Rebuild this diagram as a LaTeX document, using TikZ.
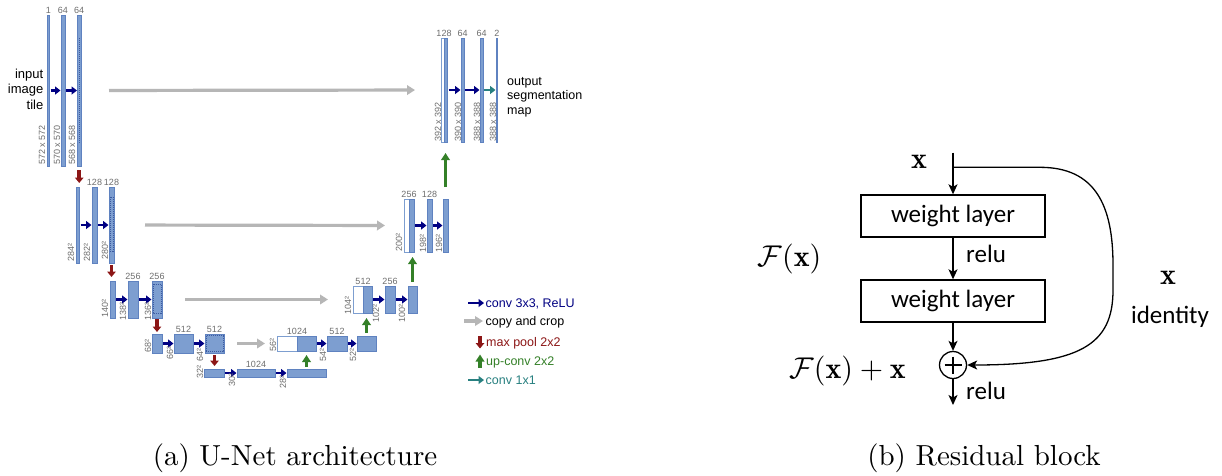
\documentclass[tikz,border=0pt]{standalone}
\usepackage{fontspec}
\usepackage{graphicx}
\usetikzlibrary{arrows.meta}
\newfontfamily\arialf{Liberation Sans}
\newfontfamily\calf{Carlito}
\definecolor{barfill}{RGB}{125,158,208}
\definecolor{bardraw}{RGB}{95,130,192}
\definecolor{cropc}{RGB}{60,90,160}
\definecolor{convblue}{RGB}{0,0,130}
\definecolor{poolred}{RGB}{140,22,22}
\definecolor{upgreen}{RGB}{52,128,40}
\definecolor{tealc}{RGB}{40,128,128}
\definecolor{copygray}{RGB}{182,182,182}
\definecolor{labgray}{RGB}{110,110,110}
\tikzset{
  bar/.style={rectangle, fill=barfill, draw=bardraw, line width=0.5pt, inner sep=0pt, outer sep=0pt},
  wbar/.style={bar, fill=white, draw=barfill},
  cropbox/.style={draw=cropc, dash pattern=on 1pt off 1pt, line width=0.5pt},
  conv/.style={draw=convblue, line width=2.8pt, -{Triangle[length=5.5pt,width=8pt]}, shorten <=1pt, shorten >=0.5pt},
  convone/.style={conv, draw=tealc},
  copyarr/.style={draw=copygray, line width=3.2pt, -{Triangle[length=8pt,width=9.5pt]}},
  pool/.style={draw=poolred, line width=3.6pt, -{Triangle[length=5.5pt,width=8.5pt]}},
  upconv/.style={draw=upgreen, line width=3.2pt, -{Triangle[length=7pt,width=8.5pt]}},
  lab/.style={font=\arialf\fontsize{9}{10}\selectfont, text=labgray, inner sep=0pt},
  toplab/.style={lab, anchor=south},
  rotlab/.style={lab, rotate=90, anchor=west},
  legtext/.style={font=\arialf\fontsize{12.5}{14}\selectfont, inner sep=0pt, anchor=base west},
  wbox/.style={draw, line width=1.4pt, minimum width=184pt, minimum height=42pt, inner sep=0pt, font=\calf\fontsize{25}{28}\selectfont},
  resarr/.style={line width=1.3pt, -{Stealth[length=10pt,width=9pt,inset=2.5pt]}},
  restext/.style={font=\calf\fontsize{25}{28}\selectfont, inner sep=0pt}
}
\newcommand\unetbar[6][]{%
  \pgfmathsetmacro\ubcx{(#3+#4)/2}\pgfmathsetmacro\ubcy{(#5+#6)/2}%
  \pgfmathsetmacro\ubw{#4-#3}\pgfmathsetmacro\ubh{#6-#5}%
  \node[bar,#1,minimum width=\ubw pt,minimum height=\ubh pt] (#2) at (\ubcx,\ubcy) {};}
\begin{document}
\begin{tikzpicture}[x=1pt,y=-1pt]
\fill[white] (0,0) rectangle (1222,475);
\useasboundingbox (0,0) rectangle (1222,475);

% ---------- U-Net: contracting path ----------
\unetbar{L1a}{47.5}{49.5}{15}{166}
\unetbar{L1b}{61}{65}{15}{166}
\unetbar{L1c}{77.5}{81}{15}{166}
\draw[cropbox] (79.25,38) -- (79.25,143);
\unetbar{L2a}{76.5}{79.5}{187}{263}
\unetbar{L2b}{92}{97}{187}{263}
\unetbar{L2c}{109}{114}{187}{263}
\draw[cropbox] (110,197) rectangle (113,251);
\unetbar{L3a}{110}{115}{281}{318}
\unetbar{L3b}{128}{138}{281}{318}
\unetbar{L3c}{152}{162}{281}{318}
\draw[cropbox] (153,284) rectangle (161,313);
\unetbar{L4a}{152}{162}{334}{353}
\unetbar{L4b}{174}{193}{334}{353}
\unetbar{L4c}{205}{224}{334}{353}
\draw[cropbox] (206,335.5) rectangle (223,351.5);
\unetbar{L5a}{204}{224}{369}{377}
\unetbar{L5b}{237}{275}{369}{377}
\unetbar{L5c}{287}{326}{369}{377}

% ---------- U-Net: expansive path ----------
\unetbar[wbar]{R4w}{277}{297}{336}{351}
\unetbar{R4b}{297}{316}{336}{351}
\unetbar{R4c}{327}{347}{336}{351}
\unetbar{R4d}{357}{376}{336}{351}
\unetbar[wbar]{R3w}{353}{363}{286}{313}
\unetbar{R3b}{363}{372}{286}{313}
\unetbar{R3c}{385}{395}{286}{313}
\unetbar{R3d}{408}{417}{286}{313}
\unetbar[wbar]{R2w}{404}{409}{199}{252}
\unetbar{R2b}{409}{414}{199}{252}
\unetbar{R2c}{427}{432}{199}{252}
\unetbar{R2d}{443}{448}{199}{252}
\unetbar[wbar]{R1w}{441.5}{444}{38}{142}
\unetbar{R1b}{444}{447.5}{38}{142}
\unetbar{R1c}{461}{464}{38}{142}
\unetbar{R1d}{480}{483}{38}{142}
\unetbar{R1e}{496}{497.5}{38}{142}

% ---------- conv arrows ----------
\draw[conv] (L1a) -- (L1b);  \draw[conv] (L1b) -- (L1c);
\draw[conv] (L2a) -- (L2b);  \draw[conv] (L2b) -- (L2c);
\draw[conv] (L3a) -- (L3b);  \draw[conv] (L3b) -- (L3c);
\draw[conv] (L4a) -- (L4b);  \draw[conv] (L4b) -- (L4c);
\draw[conv] (L5a) -- (L5b);  \draw[conv] (L5b) -- (L5c);
\draw[conv] (R4b) -- (R4c);  \draw[conv] (R4c) -- (R4d);
\draw[conv] (R3b) -- (R3c);  \draw[conv] (R3c) -- (R3d);
\draw[conv] (R2b) -- (R2c);  \draw[conv] (R2c) -- (R2d);
\draw[conv] (R1b) -- (R1c);  \draw[conv] (R1c) -- (R1d);
\draw[convone] (R1d) -- (R1e);

% ---------- copy and crop ----------
\draw[copyarr, shorten <=28pt, shorten >=26.5pt] (L1c) -- (R1w);
\draw[copyarr, shorten <=31pt, shorten >=19pt] (L2c) -- (R2w);
\draw[copyarr, shorten <=23pt, shorten >=25pt] (L3c) -- (R3w);
\draw[copyarr, shorten <=13pt, shorten >=12pt] (L4c) -- (R4w);

% ---------- max pool ----------
\draw[pool, shorten <=4pt, shorten >=4pt] (L1c.south) -- (L1c.south |- L2a.north);
\draw[pool, shorten <=2pt, shorten >=4pt] (L2c.south) -- (L2c.south |- L3a.north);
\draw[pool, shorten <=1pt, shorten >=2pt] (L3c.south) -- (L3c.south |- L4a.north);
\draw[pool, shorten <=2pt, shorten >=3pt] (L4c.south) -- (L4c.south |- L5a.north);

% ---------- up-conv ----------
\draw[upconv, shorten <=2pt, shorten >=4pt] (L5c.north -| R4b.south) -- (R4b.south);
\draw[upconv, shorten <=3pt, shorten >=5pt] (R4d.north) -- (R4d.north |- R3b.south);
\draw[upconv, shorten <=4pt, shorten >=5pt] (R3d.north) -- (R3d.north |- R2b.south);
\draw[upconv, shorten <=12pt, shorten >=11pt] (R2d.north) -- (R2d.north |- R1b.south);

% ---------- channel labels ----------
\node[toplab] (t1a) at ([yshift=1.5pt]L1a.north) {1};
\node[toplab] (t1b) at ([yshift=1.5pt]L1b.north) {64};
\node[toplab] (t1c) at ([yshift=1.5pt]L1c.north) {64};
\node[toplab] (t2b) at ([yshift=1.5pt]L2b.north) {128};
\node[toplab] (t2c) at ([yshift=1.5pt]L2c.north) {128};
\node[toplab] (t3b) at ([yshift=1.5pt]L3b.north) {256};
\node[toplab] (t3c) at ([yshift=1.5pt]L3c.north) {256};
\node[toplab] (t4b) at ([yshift=1.5pt]L4b.north) {512};
\node[toplab] (t4c) at ([yshift=1.5pt]L4c.north) {512};
\node[toplab] (t5b) at ([yshift=1.5pt]L5b.north) {1024};
\node[toplab] (u4b) at ([yshift=1.5pt]R4w.north east) {1024};
\node[toplab] (u4c) at ([yshift=1.5pt]R4c.north) {512};
\node[toplab] (u3b) at ([yshift=1.5pt]R3w.north east) {512};
\node[toplab] (u3c) at ([yshift=1.5pt]R3c.north) {256};
\node[toplab] (u2b) at ([yshift=1.5pt]R2w.north east) {256};
\node[toplab] (u2c) at ([yshift=1.5pt]R2c.north) {128};
\node[toplab] (u1b) at ([yshift=1.5pt]R1w.north east) {128};
\node[toplab] (u1c) at ([yshift=1.5pt]R1c.north) {64};
\node[toplab] (u1d) at ([yshift=1.5pt]R1d.north) {64};
\node[toplab] (u1e) at ([yshift=1.5pt]R1e.north) {2};

% ---------- size labels ----------
\node[rotlab] (s1a) at (42,165) {572 x 572};
\node[rotlab] (s1b) at (57,165) {570 x 570};
\node[rotlab] (s1c) at (72,165) {568 x 568};
\node[rotlab] (s2a) at (71,262) {284²};
\node[rotlab] (s2b) at (87,262) {282²};
\node[rotlab] (s2c) at (105,260) {280²};
\node[rotlab] (s3a) at (105,318) {140²};
\node[rotlab] (s3b) at (123,321) {138²};
\node[rotlab] (s3c) at (148,321) {136²};
\node[rotlab] (s4a) at (148,353) {68²};
\node[rotlab] (s4b) at (170,360) {66²};
\node[rotlab] (s4c) at (200,362) {64²};
\node[rotlab] (s5a) at (200,379) {32²};
\node[rotlab] (s5b) at (232,387) {30²};
\node[rotlab] (s5c) at (283,389) {28²};
\node[rotlab] (r4a) at (273,352) {56²};
\node[rotlab] (r4b) at (323,362) {54²};
\node[rotlab] (r4c) at (353,362) {52²};
\node[rotlab] (r3a) at (348,315) {104²};
\node[rotlab] (r3b) at (376,323) {102²};
\node[rotlab] (r3c) at (402,323) {100²};
\node[rotlab] (r2a) at (399,252) {200²};
\node[rotlab] (r2b) at (423,253) {198²};
\node[rotlab] (r2c) at (439,253) {196²};
\node[rotlab] (r1a) at (438,142) {392 x 392};
\node[rotlab] (r1b) at (458,142) {390 x 390};
\node[rotlab] (r1c) at (477,142) {388 x 388};
\node[rotlab] (r1d) at (493,142) {388 x 388};

% ---------- input / output texts ----------
\node[font=\arialf\fontsize{13}{15.5}\selectfont, align=right, anchor=east, inner sep=0pt] (inp) at (43.5,89) {input\\image\\tile};
\node[font=\arialf\fontsize{12.5}{14.5}\selectfont, align=left, anchor=west, inner sep=0pt] (outp) at (507,97) {output\\segmentation\\map};

% ---------- legend ----------
\coordinate (lg1s) at (468,303); \coordinate (lg1e) at (484,303);
\draw[conv, shorten <=0pt, shorten >=0pt] (lg1s) -- (lg1e);
\node[legtext, text=convblue] (lg1) at (485.5,307) {conv 3x3, ReLU};
\coordinate (lg2s) at (464,321); \coordinate (lg2e) at (483,321);
\draw[copyarr] (lg2s) -- (lg2e);
\node[legtext, text=black] (lg2) at (485.5,325) {copy and crop};
\coordinate (lg3s) at (480,336); \coordinate (lg3e) at (480,348.5);
\draw[pool] (lg3s) -- (lg3e);
\node[legtext, text=poolred] (lg3) at (486,346) {max pool 2x2};
\coordinate (lg4s) at (480,367.5); \coordinate (lg4e) at (480,354.5);
\draw[upconv] (lg4s) -- (lg4e);
\node[legtext, text=upgreen] (lg4) at (486,365) {up-conv 2x2};
\coordinate (lg5s) at (468,380); \coordinate (lg5e) at (484,380);
\draw[convone, shorten <=0pt, shorten >=0pt] (lg5s) -- (lg5e);
\node[legtext, text=tealc] (lg5) at (485.5,384) {conv 1x1};

% ---------- Residual block ----------
\coordinate (rin) at (953,152.5);
\coordinate (rbr) at (953,167.3);
\node[wbox] (w1) at (953,216) {weight layer};
\node[wbox] (w2) at (953,301) {weight layer};
\node[draw, circle, line width=1.3pt, minimum size=27pt, inner sep=0pt] (plus) at (953,365) {};
\draw[line width=1.3pt] ([yshift=8.5pt]plus.center) -- ([yshift=-8.5pt]plus.center);
\draw[line width=1.3pt] ([xshift=-8.5pt]plus.center) -- ([xshift=8.5pt]plus.center);
\coordinate (rout) at (953,405);
\draw[resarr] (rin) -- (w1);
\draw[resarr] (w1) -- (w2);
\draw[resarr] (w2) -- (plus);
\draw[resarr] (plus) -- (rout);
\draw[resarr] (rbr) -- (1040,167.3) .. controls (1095,167.3) and (1113,205) .. (1113,265)
   -- (1113,290) .. controls (1113,345) and (1080,365) .. (plus.east);
\node[restext, anchor=base west] (relu1) at (966,262) {relu};
\node[restext, anchor=base west] (relu2) at (966,399) {relu};
\node[inner sep=0pt] (xin) at (919,162) {\scalebox{3}{$\mathbf{x}$}};
\node[inner sep=0pt] (xid) at (1168,278) {\scalebox{3}{$\mathbf{x}$}};
\node[restext, anchor=base] (ident) at (1170,323) {identity};
\node[inner sep=0pt] (fx) at (789.5,259) {\scalebox{3}{$\mathcal{F}(\mathbf{x})$}};
\node[inner sep=0pt] (fxx) at (847.5,371) {\scalebox{3}{$\mathcal{F}(\mathbf{x})+\mathbf{x}$}};

% ---------- captions ----------
\node[inner sep=0pt] (capa) at (295,458) {\scalebox{2.9}{(a) U-Net architecture}};
\node[inner sep=0pt] (capb) at (984,458) {\scalebox{2.9}{(b) Residual block}};
\end{tikzpicture}
\end{document}
